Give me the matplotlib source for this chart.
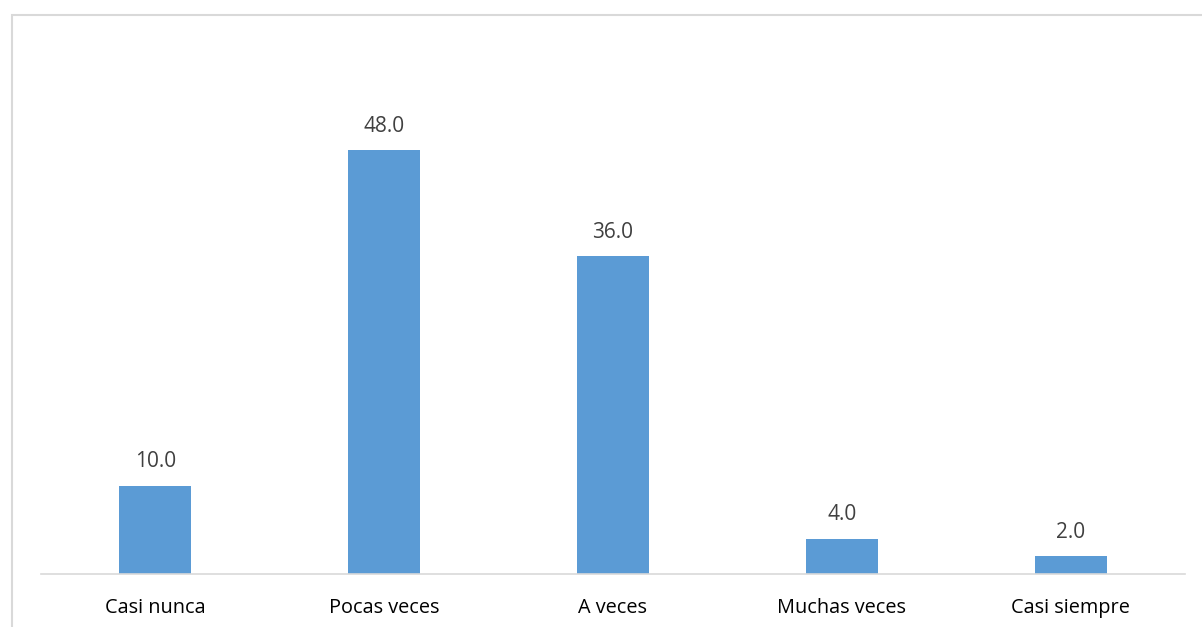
import matplotlib.pyplot as plt
from matplotlib.patches import Rectangle

categories = ["Casi nunca", "Pocas veces", "A veces", "Muchas veces", "Casi siempre"]
values = [10.0, 48.0, 36.0, 4.0, 2.0]

plt.rcParams['font.family'] = ['Open Sans', 'DejaVu Sans']

W, H = 1202, 627
fig = plt.figure(figsize=(W / 100, H / 100), dpi=100)

# chart area border (cropped at right and bottom)
fig.patches.append(Rectangle((12 / W, -0.1), 1.2, (H - 15) / H + 0.1,
                             transform=fig.transFigure, fill=False,
                             edgecolor="#D9D9D9", linewidth=1.5))

ax = fig.add_axes([41 / W, 53 / H, (1185 - 41) / W, (574 - 44) / H])
x = range(len(categories))
bars = ax.bar(x, values, width=0.315, color="#5B9BD5")
for b, v in zip(bars, values):
    ax.text(b.get_x() + b.get_width() / 2, v + 1.5, f"{v:.1f}",
            ha="center", va="bottom", fontsize=15, color="#404040")

ax.set_xlim(-0.5, len(categories) - 0.5)
ax.set_ylim(0, 60)
ax.set_xticks(list(x))
ax.set_xticklabels(categories, fontsize=14.3, color="#000000")
ax.tick_params(axis="x", length=0, pad=17)
ax.set_yticks([])
for s in ["top", "right", "left"]:
    ax.spines[s].set_visible(False)
ax.spines["bottom"].set_color("#D9D9D9")
ax.spines["bottom"].set_linewidth(1.2)

fig.savefig("out.png", dpi=100)
